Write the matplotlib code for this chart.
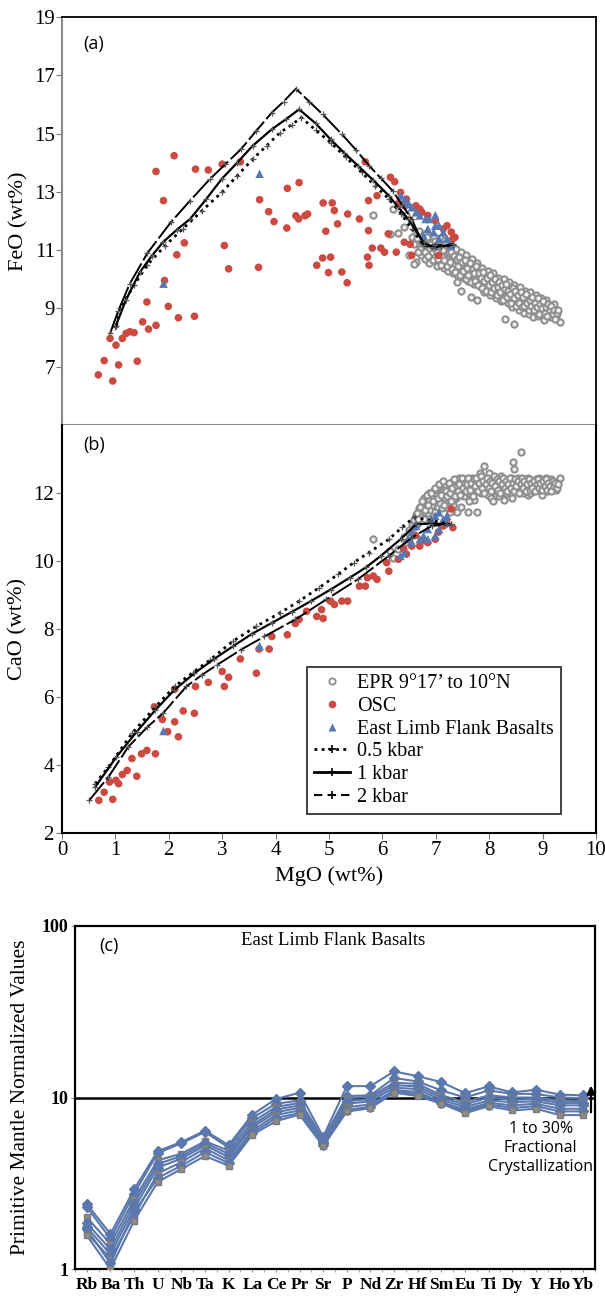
import matplotlib
matplotlib.use("Agg")
import matplotlib.pyplot as plt
from matplotlib.lines import Line2D
import numpy as np

# ---------------- data ----------------
# EPR 9°17' to 10°N (gray open circles)
epr_mgo = [6.55, 6.60, 6.62, 6.65, 6.70, 6.72, 6.75, 6.78, 6.80, 6.82, 6.85, 6.88, 6.90, 6.92, 6.95, 6.98,
           7.00, 7.02, 7.05, 7.08, 7.10, 7.12, 7.15, 7.18, 7.20, 7.22, 7.25, 7.28, 7.30, 7.32, 7.35, 7.38,
           7.40, 7.42, 7.45, 7.47, 7.50, 7.52, 7.55, 7.58, 7.60, 7.62, 7.65, 7.68, 7.70, 7.72, 7.75, 7.78,
           7.80, 7.82, 7.85, 7.88, 7.90, 7.92, 7.95, 7.98, 8.00, 8.02, 8.05, 8.08, 8.10, 8.12, 8.15, 8.18,
           8.20, 8.22, 8.25, 8.28, 8.30, 8.32, 8.35, 8.38, 8.40, 8.42, 8.45, 8.47, 8.50, 8.52, 8.55, 8.58,
           8.60, 8.62, 8.65, 8.68, 8.70, 8.72, 8.75, 8.78, 8.80, 8.82, 8.85, 8.88, 8.90, 8.92, 8.95, 8.98,
           9.00, 9.02, 9.05, 9.08, 9.10, 9.12, 9.15, 9.20, 9.25, 9.32,
           6.30, 6.40, 6.45, 5.83, 6.15, 6.50, 6.59, 6.20,
           7.03, 7.13, 7.23, 7.33, 7.43, 7.53, 7.63, 7.73, 7.83, 7.93, 8.03, 8.13, 8.23, 8.33, 8.43, 8.53,
           8.63, 8.73, 8.83, 8.93, 9.03, 9.13, 9.18, 9.22,
           6.68, 6.77, 6.87, 6.97, 7.07, 7.17, 7.27, 7.37, 7.48, 7.57, 7.67, 7.77, 7.87, 7.97, 8.07, 8.17,
           8.27, 8.37, 8.47, 8.57, 8.67, 8.77, 8.87, 8.97, 9.07, 7.40,
           6.70, 6.74, 6.79, 6.83, 6.86, 6.91, 6.94, 6.99, 7.04, 7.06, 7.09, 7.14, 7.16, 7.19, 7.21, 7.24,
           7.26, 7.29, 7.31, 7.34, 7.36, 7.39, 7.41, 7.44, 7.46, 7.49, 7.51, 7.54, 7.56, 7.59, 7.61, 7.64,
           7.66, 7.69, 7.71, 7.74, 7.76, 7.79, 7.81, 7.84, 7.86, 7.89, 7.91, 7.94, 7.96, 7.99, 8.01, 8.04,
           8.06, 8.09, 8.11, 8.14, 8.16, 8.19, 8.21, 8.24, 8.26, 8.29, 8.31, 8.34, 8.36, 8.39, 8.41, 8.44,
           8.46, 8.49, 8.51, 8.54, 8.56, 8.59, 8.61, 8.64, 8.66, 8.69, 8.71, 8.74, 8.76, 8.79, 8.81, 8.84,
           8.86, 8.89, 8.91, 8.94, 8.96, 8.99, 9.01, 9.04, 9.06, 9.09, 9.11, 9.14, 9.16, 9.19, 9.21, 9.24,
           9.27, 9.29, 6.64, 6.67]
epr_feo = [11.45, 11.20, 10.60, 11.55, 11.30, 10.85, 11.10, 11.40, 10.70, 11.25, 11.00, 10.55, 11.35, 10.90, 11.15, 10.75,
           11.05, 10.45, 11.25, 10.85, 10.60, 11.10, 10.40, 10.95, 10.70, 10.30, 11.00, 10.55, 10.80, 10.20, 10.65, 10.45,
           10.90, 10.10, 10.55, 9.60, 10.35, 10.75, 10.20, 10.50, 9.95, 10.30, 9.40, 10.15, 10.60, 9.85, 10.25, 9.30,
           10.05, 10.40, 9.75, 10.10, 9.55, 9.90, 10.25, 9.65, 9.95, 9.45, 9.80, 10.10, 9.60, 9.35, 9.85, 9.50,
           9.70, 9.25, 9.95, 9.40, 8.65, 9.60, 9.20, 9.75, 9.35, 9.05, 9.55, 8.45, 9.25, 9.65, 8.95, 9.40,
           9.10, 9.50, 8.85, 9.30, 9.00, 9.45, 8.80, 9.20, 9.05, 8.70, 9.15, 8.90, 9.25, 8.75, 9.05, 8.85,
           9.15, 8.60, 8.95, 9.10, 8.80, 9.00, 8.70, 8.90, 8.75, 8.55,
           11.60, 11.80, 12.20, 12.19, 11.55, 10.82, 10.53, 12.40,
           10.95, 10.75, 10.85, 10.50, 10.35, 10.05, 10.45, 10.00, 9.90, 9.80, 9.70, 9.90, 9.55, 9.45, 9.70, 9.30,
           9.20, 9.35, 9.30, 9.05, 8.80, 8.85, 9.05, 9.15,
           11.65, 11.55, 11.50, 11.45, 11.40, 11.35, 11.20, 11.05, 10.95, 10.85, 10.70, 10.55, 10.40, 10.30, 10.20, 10.05,
           10.00, 9.90, 9.80, 9.75, 9.60, 9.55, 9.45, 9.35, 9.30, 9.90,
           11.05, 11.35, 10.95, 11.45, 10.80, 11.20, 10.65, 11.30, 10.70, 11.15, 10.50, 11.00, 10.65, 11.20, 10.45, 10.90,
           10.60, 10.95, 10.35, 10.80, 10.25, 10.70, 10.45, 10.75, 10.15, 10.60, 10.30, 10.65, 10.00, 10.40, 10.15, 10.55,
           9.90, 10.35, 10.20, 9.95, 10.45, 9.80, 10.20, 10.05, 9.70, 10.25, 9.95, 9.60, 10.05, 9.80, 10.15, 9.55,
           9.90, 9.70, 10.00, 9.45, 9.75, 9.90, 9.55, 9.80, 9.30, 9.65, 9.85, 9.40, 9.60, 9.50, 9.20, 9.70,
           9.35, 9.60, 9.10, 9.45, 9.20, 9.55, 9.05, 9.40, 9.10, 9.50, 9.20, 8.95, 9.30, 9.10, 9.40, 8.95,
           9.20, 9.05, 9.35, 8.80, 9.15, 9.00, 9.25, 8.85, 9.05, 8.75, 9.15, 8.95, 9.10, 8.80, 8.95, 8.65,
           8.85, 8.95, 11.40, 10.95]
epr_cao = [11.05, 11.20, 11.35, 11.10, 11.45, 11.30, 11.60, 11.25, 11.55, 11.70, 11.40, 11.80, 11.50, 11.65, 11.90, 11.45,
           11.75, 11.95, 11.60, 12.05, 11.80, 11.55, 12.10, 11.85, 12.20, 11.70, 12.00, 11.90, 12.25, 11.65, 12.05, 11.85,
           12.30, 12.10, 11.95, 12.20, 12.35, 11.90, 12.15, 12.40, 11.45, 12.00, 12.25, 12.45, 12.10, 11.80, 12.30, 11.45,
           12.15, 12.50, 12.00, 12.25, 12.80, 12.10, 12.35, 11.95, 12.60, 12.20, 12.40, 12.05, 12.30, 12.15, 12.45, 11.90,
           12.25, 12.35, 12.10, 12.40, 12.20, 12.00, 12.30, 12.15, 12.45, 11.85, 12.90, 12.70, 12.25, 12.05, 12.35, 12.15,
           13.20, 12.30, 12.10, 12.40, 12.20, 11.95, 12.30, 12.15, 12.35, 12.05, 12.25, 12.40, 12.10, 12.30, 12.20, 11.95,
           12.35, 12.15, 12.25, 12.05, 12.30, 12.15, 12.40, 12.20, 12.10, 12.45,
           10.35, 10.70, 10.55, 10.64, 10.30, 10.90, 11.00, 10.10,
           12.15, 12.30, 11.55, 11.80, 12.45, 12.05, 11.75, 12.35, 12.60, 12.40, 11.85, 12.20, 12.50, 12.10, 12.25, 12.45,
           12.00, 12.45, 12.20, 12.45, 12.30, 12.35, 12.25, 12.15,
           11.55, 11.85, 12.00, 12.10, 11.70, 12.25, 11.45, 12.15, 11.60, 12.20, 11.95, 12.05, 12.20, 12.30, 11.75, 12.35,
           11.80, 12.40, 12.15, 12.25, 12.35, 12.00, 12.30, 12.20, 12.45, 11.45,
           11.60, 11.75, 11.50, 11.95, 11.65, 12.00, 11.75, 12.15, 11.85, 12.25, 11.95, 12.35, 11.65, 12.05, 11.90, 12.30,
           12.00, 11.75, 12.15, 12.40, 11.90, 12.20, 12.05, 12.25, 11.95, 12.45, 12.15, 12.30, 12.05, 12.25, 12.45, 12.10,
           12.30, 11.90, 12.40, 12.20, 12.45, 12.05, 12.30, 12.50, 12.15, 12.35, 12.00, 12.25, 12.45, 12.15, 12.35, 12.05,
           12.30, 12.50, 12.20, 12.40, 12.10, 12.35, 12.00, 12.25, 12.45, 12.15, 12.35, 12.05, 12.25, 12.45, 12.15, 12.30,
           12.05, 12.40, 12.20, 12.35, 12.00, 12.25, 12.45, 12.15, 12.35, 12.05, 12.25, 12.40, 12.10, 12.30, 12.15, 12.35,
           12.05, 12.25, 12.40, 12.15, 12.30, 12.10, 12.35, 12.20, 12.40, 12.10, 12.30, 12.20, 12.05, 12.35, 12.20, 12.30,
           12.15, 12.25, 11.40, 11.25]

# OSC (red filled circles)
osc_a_mgo = [0.68, 0.79, 0.90, 0.95, 1.01, 1.06, 1.13, 1.20, 1.27, 1.35, 1.41, 1.51, 1.59, 1.62, 1.76, 1.76,
             1.90, 1.92, 1.99, 2.10, 2.15, 2.18, 2.29, 2.48, 2.50, 2.74, 3.00, 3.04, 3.12, 3.34, 3.68, 3.70,
             3.87, 3.97, 4.22, 4.21, 4.38, 4.44, 4.43, 4.55, 4.60, 4.77, 4.88, 4.89, 4.94, 4.99, 5.03, 5.06,
             5.10, 5.16, 5.24, 5.35, 5.34, 5.57, 5.68, 5.72, 5.74, 5.74, 5.75, 5.81, 5.90, 5.97, 6.04, 6.11,
             6.15, 6.23, 6.26, 6.41, 6.42, 6.55, 6.63, 6.74, 7.05, 7.14, 7.21, 7.36, 7.29, 6.34, 6.45, 6.70,
             6.85, 6.99, 7.32, 6.30, 6.52]
osc_feo = [6.72, 7.21, 7.97, 6.51, 7.74, 7.06, 7.97, 8.14, 8.20, 8.17, 7.19, 8.54, 9.22, 8.29, 8.42, 13.70,
           12.70, 9.96, 9.07, 14.24, 10.84, 8.68, 11.25, 8.73, 13.78, 13.75, 13.95, 11.16, 10.36, 14.03, 10.41, 12.73,
           12.32, 11.98, 13.12, 11.76, 12.18, 13.32, 12.07, 12.18, 12.24, 10.48, 10.73, 12.62, 11.65, 10.23, 10.76, 12.62,
           12.36, 11.90, 10.25, 12.24, 9.88, 12.07, 14.03, 10.76, 12.70, 11.67, 10.48, 11.07, 12.87, 11.07, 10.93, 11.56,
           13.50, 13.35, 10.93, 11.27, 12.52, 10.82, 12.52, 12.30, 10.82, 11.73, 11.84, 11.44, 11.62, 12.98, 12.75, 12.41,
           12.19, 12.01, 11.39, 12.60, 11.20]
osc_b_mgo = [0.69, 0.79, 0.89, 0.95, 1.01, 1.06, 1.13, 1.22, 1.31, 1.40, 1.49, 1.59, 1.75, 1.73, 1.88, 1.98,
             2.11, 2.11, 2.18, 2.27, 2.48, 2.50, 2.74, 3.00, 3.04, 3.12, 3.34, 3.64, 3.69, 3.88, 3.93, 4.22,
             4.37, 4.44, 4.58, 4.77, 4.89, 4.86, 5.03, 5.10, 5.24, 5.35, 5.57, 5.68, 5.72, 5.83, 5.90, 6.08,
             6.12, 6.30, 6.45, 6.55, 6.70, 6.85, 6.99, 7.14, 7.32, 7.29, 6.40, 6.62, 6.78, 7.05, 7.20]
osc_cao = [2.96, 3.20, 3.50, 2.99, 3.55, 3.45, 3.72, 3.84, 4.19, 3.67, 4.33, 4.43, 4.33, 5.71, 5.34, 4.98,
           5.27, 6.23, 4.83, 5.59, 5.52, 6.31, 6.43, 6.75, 6.31, 6.58, 7.12, 6.70, 7.41, 7.41, 7.78, 7.83,
           8.16, 8.28, 8.52, 8.37, 8.31, 8.57, 8.82, 8.72, 8.82, 8.82, 9.26, 9.26, 9.51, 9.56, 9.46, 9.95,
           9.70, 10.05, 10.20, 10.44, 10.44, 10.54, 10.64, 11.03, 10.98, 11.53, 10.35, 10.75, 10.60, 10.85, 11.20]

# East Limb Flank Basalts (blue triangles)
elf_a_mgo = [6.34, 6.41, 6.48, 6.55, 6.63, 6.70, 6.81, 6.88, 6.99, 7.06, 6.96, 6.85, 7.14, 7.21, 7.06, 7.28,
             6.99, 6.45, 6.77, 6.99, 1.90, 3.70]
elf_feo = [12.87, 12.75, 12.64, 12.47, 12.30, 12.19, 12.07, 12.07, 11.84, 11.84, 11.62, 11.73, 11.62, 11.39, 11.39, 11.16,
           11.16, 12.58, 11.50, 12.20, 9.85, 13.62]
elf_b_mgo = [6.34, 6.41, 6.48, 6.55, 6.70, 6.77, 6.85, 6.92, 6.99, 7.06, 7.14, 7.21, 6.85, 6.99, 7.06, 6.55,
             6.63, 7.21, 1.90, 3.70]
elf_cao = [10.15, 10.25, 10.64, 10.84, 10.64, 10.74, 10.94, 11.23, 11.33, 11.43, 11.23, 11.33, 10.64, 10.74, 10.94, 10.54,
           11.03, 11.13, 5.00, 7.50]

# MELTS fractional crystallization models
kb05_a_mgo = [1.02, 1.09, 1.35, 1.60, 1.93, 2.26, 2.62, 2.99, 3.28, 3.57, 3.83, 4.08, 4.30, 4.48, 4.75, 5.03, 5.32,
              5.61, 5.87, 6.12, 6.35, 6.55, 6.77, 7.00, 7.32]
kb05_a_feo = [8.40, 9.00, 9.80, 10.50, 11.15, 11.73, 12.35, 12.98, 13.55, 14.12, 14.58, 15.03, 15.30, 15.55, 15.12, 14.69,
              14.18, 13.67, 13.20, 12.76, 12.25, 11.73, 11.16, 11.12, 11.16]
kb1_a_mgo = [1.00, 1.20, 1.46, 1.68, 1.89, 2.15, 2.40, 2.70, 2.99, 3.28, 3.57, 3.93, 4.20, 4.44, 4.75, 5.03, 5.28,
             5.54, 5.83, 6.12, 6.30, 6.48, 6.77, 6.92, 7.10, 7.32]
kb1_a_feo = [8.37, 9.30, 10.25, 10.80, 11.27, 11.70, 12.07, 12.75, 13.44, 14.00, 14.58, 15.15, 15.50, 15.83, 15.35, 14.80,
             14.35, 13.90, 13.40, 12.87, 12.47, 12.07, 11.27, 11.10, 11.12, 11.20]
kb2_a_mgo = [0.90, 1.05, 1.27, 1.60, 2.04, 2.40, 2.77, 3.06, 3.35, 3.64, 3.93, 4.15, 4.38, 4.63, 4.88, 5.24, 5.50,
             5.75, 5.97, 6.19, 6.37, 6.55, 6.77, 6.99, 7.32]
kb2_a_feo = [8.14, 8.90, 9.85, 10.90, 11.96, 12.70, 13.44, 13.95, 14.46, 15.10, 15.72, 16.10, 16.54, 16.10, 15.66, 14.98,
             14.45, 13.90, 13.47, 13.04, 12.55, 12.07, 11.16, 11.16, 11.20]

kb05_b_mgo = [0.62, 0.87, 1.31, 1.75, 2.11, 2.45, 2.77, 3.20, 3.64, 4.08, 4.44, 4.81, 5.17, 5.46, 5.75, 6.12, 6.37,
              6.59, 6.90, 7.28]
kb05_b_cao = [3.45, 3.94, 4.93, 5.71, 6.31, 6.72, 7.09, 7.64, 8.08, 8.47, 8.82, 9.21, 9.61, 9.95, 10.25, 10.64, 10.99,
              11.28, 11.20, 11.08]
kb1_b_mgo = [0.62, 1.02, 1.40, 1.75, 2.10, 2.48, 2.85, 3.20, 3.55, 3.93, 4.30, 4.66, 5.03, 5.39, 5.70, 5.97, 6.34,
             6.63, 6.90, 7.28]
kb1_b_cao = [3.35, 4.24, 4.98, 5.62, 6.20, 6.70, 7.12, 7.49, 7.85, 8.18, 8.50, 8.82, 9.16, 9.51, 9.82, 10.15, 10.64,
             11.08, 11.10, 11.08]
kb2_b_mgo = [0.51, 0.87, 1.24, 1.60, 1.89, 2.33, 2.62, 2.91, 3.35, 3.79, 4.37, 4.95, 5.54, 6.12, 6.55, 6.92, 7.21]
kb2_b_cao = [2.96, 3.65, 4.53, 5.12, 5.52, 6.31, 6.65, 6.95, 7.39, 7.78, 8.28, 8.87, 9.46, 10.15, 10.69, 11.03, 11.08]

# Panel (c): primitive-mantle-normalized spider diagram
elements = ['Rb', 'Ba', 'Th', 'U', 'Nb', 'Ta', 'K', 'La', 'Ce', 'Pr', 'Sr', 'P', 'Nd', 'Zr', 'Hf', 'Sm', 'Eu',
            'Ti', 'Dy', 'Y', 'Ho', 'Yb']
spider_1 = [2.39, 1.60, 2.91, 4.87, 5.50, 6.41, 5.27, 7.94, 9.79, 10.67, 5.90, 11.65, 11.65, 14.2, 13.3, 12.3, 10.6,
            11.6, 10.7, 11.1, 10.4, 10.3]
spider_2 = [2.30, 1.50, 2.75, 4.75, 5.40, 6.30, 5.10, 7.60, 9.20, 9.60, 5.70, 10.2, 10.3, 13.0, 12.4, 11.0, 10.0,
            11.0, 10.5, 10.5, 10.0, 9.9]
spider_3 = [2.00, 1.40, 2.55, 4.30, 4.70, 5.55, 4.90, 7.20, 8.80, 9.30, 5.60, 9.9, 10.1, 12.2, 12.0, 10.3, 9.4,
            10.3, 10.0, 10.0, 9.6, 9.5]
spider_4 = [1.85, 1.30, 2.40, 4.10, 4.55, 5.40, 4.70, 6.90, 8.50, 9.00, 5.50, 9.5, 9.8, 11.8, 11.6, 10.0, 9.1,
            10.0, 9.7, 9.8, 9.3, 9.3]
spider_5 = [1.75, 1.22, 2.25, 3.90, 4.40, 5.25, 4.50, 6.70, 8.20, 8.70, 5.40, 9.2, 9.5, 11.4, 11.2, 9.7, 8.8,
            9.6, 9.4, 9.5, 9.0, 9.0]
spider_6 = [1.62, 1.15, 2.05, 3.60, 4.20, 5.05, 4.30, 6.40, 7.90, 8.40, 5.30, 8.8, 9.1, 11.0, 10.8, 9.4, 8.5,
            9.3, 9.0, 9.2, 8.6, 8.6]
spider_7 = [1.70, 1.08, 2.15, 3.40, 4.00, 4.80, 4.15, 6.20, 7.60, 8.10, 5.25, 8.5, 8.8, 10.8, 10.5, 9.3, 8.3,
            9.1, 8.7, 8.9, 8.3, 8.3]
spider_8 = [1.57, 1.00, 1.91, 3.22, 3.83, 4.56, 4.00, 6.06, 7.28, 7.94, 5.20, 8.29, 8.66, 10.67, 10.2, 9.2, 8.1,
            8.9, 8.4, 8.6, 7.9, 7.9]
spider_samples = [spider_1, spider_2, spider_3, spider_4, spider_5, spider_6, spider_7, spider_8]
spider_markers = ['D', 'D', 's', 'D', 'D', 's', 'D', 's']

# ---------------- style ----------------
SERIF = ['Liberation Serif', 'DejaVu Serif']
SANS = ['Open Sans', 'DejaVu Sans']
GRAY = '#8e8e8e'
RED = '#cd4a42'
BLUE = '#5878b2'
LINEBLUE = '#5a78ad'

plt.rcParams['font.family'] = SERIF

fig = plt.figure(figsize=(6.05, 13.0), dpi=100)

axA = fig.add_axes([62 / 605, 1 - 425 / 1300, 534 / 605, 408 / 1300])
axB = fig.add_axes([62 / 605, 1 - 833 / 1300, 534 / 605, 408 / 1300])
axC = fig.add_axes([75 / 605, 1 - 1269 / 1300, 520 / 605, 343 / 1300])


def draw_models(ax, m05, v05, m1, v1, m2, v2):
    mk = dict(marker='+', markersize=4.5, markeredgecolor='#555555', markeredgewidth=0.9)
    ax.plot(m05, v05, color='black', linestyle=(0, (1, 1.6)), linewidth=2.0, zorder=4, **mk)
    ax.plot(m1, v1, color='black', linestyle='-', linewidth=1.6, zorder=4, **mk)
    ax.plot(m2, v2, color='black', linestyle=(0, (12, 1.8)), linewidth=1.4, zorder=4, **mk)


# ----- panel (a) -----
axA.scatter(epr_mgo, epr_feo, s=20, facecolors='#f4f4f4', edgecolors=GRAY, linewidths=1.5, zorder=2)
axA.scatter(osc_a_mgo, osc_feo, s=30, color=RED, edgecolors='none', zorder=3)
axA.scatter(elf_a_mgo, elf_feo, s=38, marker='^', color=BLUE, edgecolors='none', zorder=3)
draw_models(axA, kb05_a_mgo, kb05_a_feo, kb1_a_mgo, kb1_a_feo, kb2_a_mgo, kb2_a_feo)
axA.set_xlim(0, 10)
axA.set_ylim(5, 19)
axA.set_yticks([7, 9, 11, 13, 15, 17, 19])
axA.set_xticks(range(0, 11))
axA.tick_params(axis='x', labelbottom=False, direction='out', length=4, color='#777777')
axA.tick_params(axis='y', direction='out', length=4, labelsize=15, color='#777777', pad=1)
axA.set_ylabel('FeO (wt%)', fontsize=16, labelpad=4)
for side in ['left', 'bottom']:
    axA.spines[side].set_color('#8a8a8a')
    axA.spines[side].set_linewidth(1.5)
for side in ['top', 'right']:
    axA.spines[side].set_color('black')
    axA.spines[side].set_linewidth(1.3)
axA.text(0.04, 0.935, '(a)', transform=axA.transAxes, fontsize=13, family=SANS, va='center', ha='left')

# ----- panel (b) -----
axB.scatter(epr_mgo, epr_cao, s=20, facecolors='#f4f4f4', edgecolors=GRAY, linewidths=1.5, zorder=2)
axB.scatter(osc_b_mgo, osc_cao, s=30, color=RED, edgecolors='none', zorder=3)
axB.scatter(elf_b_mgo, elf_cao, s=38, marker='^', color=BLUE, edgecolors='none', zorder=3)
draw_models(axB, kb05_b_mgo, kb05_b_cao, kb1_b_mgo, kb1_b_cao, kb2_b_mgo, kb2_b_cao)
axB.set_xlim(0, 10)
axB.set_ylim(2, 14)
axB.set_yticks([2, 4, 6, 8, 10, 12])
axB.set_xticks(range(0, 11))
axB.tick_params(axis='both', direction='out', length=4, labelsize=15, color='#777777', pad=2)
axB.set_ylabel('CaO (wt%)', fontsize=16, labelpad=4)
axB.set_xlabel('MgO (wt%)', fontsize=16, labelpad=4)
axB.spines['top'].set_visible(False)
for side in ['left', 'bottom', 'right']:
    axB.spines[side].set_color('black')
    axB.spines[side].set_linewidth(1.5)
axB.text(0.04, 0.952, '(b)', transform=axB.transAxes, fontsize=13, family=SANS, va='center', ha='left')

leg_handles = [
    Line2D([], [], linestyle='none', marker='o', markersize=4.5, markerfacecolor='white',
           markeredgecolor=GRAY, markeredgewidth=1.3),
    Line2D([], [], linestyle='none', marker='o', markersize=5.5, markerfacecolor=RED, markeredgecolor='none'),
    Line2D([], [], linestyle='none', marker='^', markersize=6, markerfacecolor=BLUE, markeredgecolor='none'),
    Line2D([], [], color='black', linestyle=(0, (1, 1.6)), linewidth=2.0, marker='+', markersize=6,
           markeredgewidth=1.2, markevery=[1]),
    Line2D([], [], color='black', linestyle='-', linewidth=2.0, marker='+', markersize=6,
           markeredgewidth=1.2, markevery=[1]),
    Line2D([], [], color='black', linestyle=(0, (4, 2.5)), linewidth=1.5, marker='+', markersize=6,
           markeredgewidth=1.2, markevery=[1]),
]
for h in leg_handles[3:]:
    h.set_data([0, 0.5, 1], [0, 0, 0])
leg_labels = ['EPR 9°17’ to 10°N', 'OSC', 'East Limb Flank Basalts', '0.5 kbar', '1 kbar', '2 kbar']
leg = axB.legend(leg_handles, leg_labels, loc='lower left', bbox_to_anchor=(0.459, 0.047),
                 fontsize=14.5, frameon=True, fancybox=False, edgecolor='black', handlelength=1.8,
                 handletextpad=0.35, labelspacing=0.18, borderpad=0.35, borderaxespad=0)
leg.get_frame().set_linewidth(1.3)

# ----- panel (c) -----
xpos = np.arange(len(elements))
for vals, mk in zip(spider_samples, spider_markers):
    if mk == 's':
        axC.plot(xpos, vals, color=LINEBLUE, linewidth=1.5, marker='s', markersize=5,
                 markerfacecolor='#8c8c8c', markeredgecolor='#7a7a7a', zorder=3)
    else:
        axC.plot(xpos, vals, color=LINEBLUE, linewidth=1.5, marker='D', markersize=5,
                 markerfacecolor=LINEBLUE, markeredgecolor=LINEBLUE, zorder=3)
axC.axhline(10, color='black', linewidth=1.8, zorder=2)
axC.set_yscale('log')
axC.set_ylim(1, 100)
axC.set_xlim(-0.5, len(elements) - 0.5)
axC.set_yticks([1, 10, 100])
axC.set_yticklabels(['1', '10', '100'], fontweight='bold', fontsize=13)
axC.yaxis.set_minor_locator(matplotlib.ticker.NullLocator())
axC.set_xticks(xpos)
axC.set_xticklabels(elements, fontweight='bold', fontsize=12.5)
axC.set_xticks(np.arange(-0.5, len(elements), 0.5), minor=True)
axC.tick_params(axis='x', which='major', length=2.5, color='#999999', pad=3)
axC.tick_params(axis='x', which='minor', length=2.5, color='#999999')
axC.tick_params(axis='y', which='major', length=3, color='#999999', pad=2)
for side in axC.spines:
    axC.spines[side].set_color('black')
    axC.spines[side].set_linewidth(1.6)
axC.set_ylabel('Primitive Mantle Normalized Values', fontsize=15.5, labelpad=8)
axC.text(0.046, 0.942, '(c)', transform=axC.transAxes, fontsize=13, family=SANS, va='center', ha='left')
axC.text(10.43, 82, 'East Limb Flank Basalts', fontsize=13.5, ha='center', va='center')
axC.text(19.2, 5.1, '1 to 30%\nFractional\nCrystallization', fontsize=11.5, family=SANS,
         ha='center', va='center', linespacing=1.25)
axC.annotate('', xy=(21.33, 12.2), xytext=(21.33, 7.9),
             arrowprops=dict(arrowstyle='-|>', color='black', lw=1.6, mutation_scale=12))

fig.savefig('out.png', dpi=100)
